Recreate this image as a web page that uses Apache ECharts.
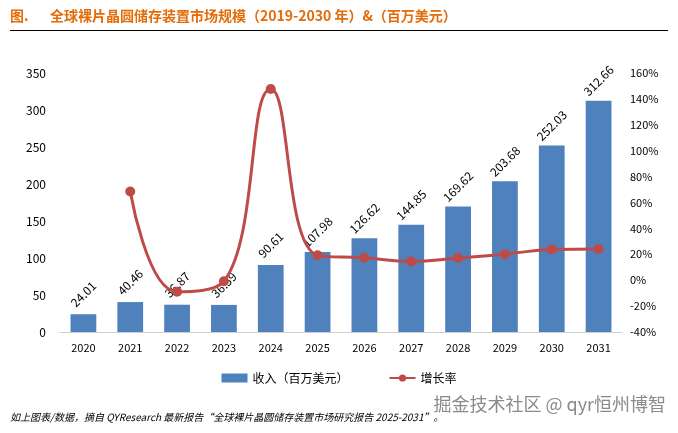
<!DOCTYPE html>
<html><head><meta charset="utf-8">
<script src="https://cdn.jsdelivr.net/npm/echarts@6/dist/echarts.min.js"></script>
<style>html,body{margin:0;padding:0;background:#fff}#c{width:678px;height:433px}</style>
</head><body><div id="c"></div>
<script>
const categories = ['2020','2021','2022','2023','2024','2025','2026','2027','2028','2029','2030','2031'];
const revenue = [24.01,40.46,36.87,36.59,90.61,107.98,126.62,144.85,169.62,203.68,252.03,312.66];
const growth = [null,68.5,-8.9,-0.8,147.6,19.2,17.3,14.4,17.1,20.1,23.7,24.1];
const leftTicks = [0,350,50];
const rightTicks = [-40,160,20];

const chart = echarts.init(document.getElementById('c'));
const F = '"Noto Sans CJK SC","Liberation Sans",sans-serif';
chart.setOption({
  animation:false,
  textStyle:{fontFamily:F},
  graphic:[
    {type:'text',left:10,top:9,style:{text:'图.',fill:'#e36c0a',font:'bold 14px '+F}},
    {type:'text',left:50,top:9,style:{text:'全球裸片晶圆储存装置市场规模（2019-2030 年）&（百万美元）',fill:'#e36c0a',font:'bold 14px '+F}},
    {type:'line',shape:{x1:10,y1:30.5,x2:668,y2:30.5},style:{stroke:'#000',lineWidth:1}},
    {type:'text',left:10,top:412,style:{text:'如上图表/数据，摘自 QYResearch 最新报告“全球裸片晶圆储存装置市场研究报告 2025-2031”。',fill:'#000',font:'italic 10px '+F}},
    {type:'text',right:12,top:395,style:{text:'掘金技术社区 @ qyr恒州博智',fill:'#8a8a8a',font:'18px '+F}}
  ],
  legend:{bottom:44,left:'center',itemGap:40,itemWidth:26,itemHeight:9,
    textStyle:{fontSize:12,color:'#000',fontFamily:F},
    data:[{name:'收入（百万美元）',icon:'rect'},{name:'增长率'}]},
  grid:{left:60,right:56,top:73,bottom:101},
  xAxis:{type:'category',data:categories,
    axisLine:{lineStyle:{color:'#d0d0d0'}},axisTick:{show:false},
    axisLabel:{color:'#000',fontSize:11,margin:10}},
  yAxis:[
    {type:'value',min:leftTicks[0],max:leftTicks[1],interval:leftTicks[2],
      splitLine:{show:false},axisLine:{show:false},axisTick:{show:false},
      axisLabel:{color:'#000',fontSize:12,margin:14}},
    {type:'value',min:rightTicks[0],max:rightTicks[1],interval:rightTicks[2],
      splitLine:{show:false},axisLine:{show:false},axisTick:{show:false},
      axisLabel:{color:'#000',fontSize:11,margin:8,formatter:'{value}%'}}
  ],
  series:[
    {name:'收入（百万美元）',type:'bar',data:revenue,barWidth:'55%',
      itemStyle:{color:'#4f81bd'},
      label:{show:true,position:'top',rotate:45,distance:20,align:'center',verticalAlign:'middle',
        color:'#000',fontSize:12,fontFamily:F}},
    {name:'增长率',type:'line',yAxisIndex:1,data:growth,smooth:0.45,
      symbol:'circle',symbolSize:10,
      lineStyle:{color:'#be4b48',width:3},itemStyle:{color:'#be4b48'}}
  ]
});
</script></body></html>
